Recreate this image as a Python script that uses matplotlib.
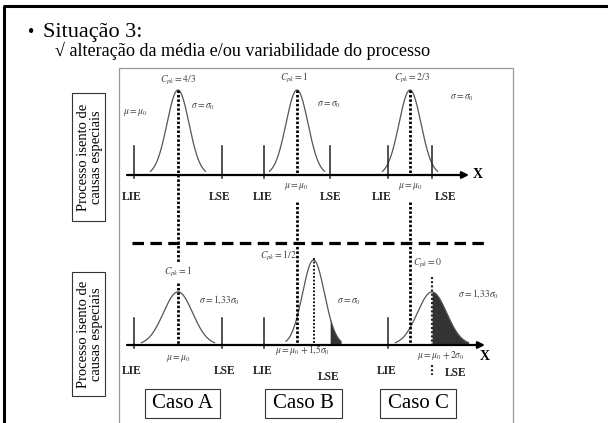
import numpy as np
import matplotlib
matplotlib.use("Agg")
import matplotlib.pyplot as plt
from matplotlib.patches import Rectangle

# ---------------- data ----------------
cases = ["Caso A", "Caso B", "Caso C"]
spec_half_width = [4, 3, 2]            # (LSE-LIE)/2 in units of sigma0
top_cpk = ["4/3", "1", "2/3"]
top_sigma = [1.0, 1.0, 1.0]            # sigma / sigma0
top_shift = [0.0, 0.0, 0.0]            # (mu - mu0) / sigma0
bot_cpk = ["1", "1/2", "0"]
bot_sigma = [1.33, 1.0, 1.33]
bot_shift = [0.0, 1.5, 2.0]
top_sigma_lbl = [r"$\sigma=\sigma_0$"] * 3
bot_sigma_lbl = [r"$\sigma=1{,}33\sigma_0$", r"$\sigma=\sigma_0$", r"$\sigma=1{,}33\sigma_0$"]
top_mu_lbl = [r"$\mu=\mu_0$"] * 3
bot_mu_lbl = [r"$\mu=\mu_0$", r"$\mu=\mu_0+1{,}5\sigma_0$", r"$\mu=\mu_0+2\sigma_0$"]
title = "Situação 3:"
subtitle = "√ alteração da média e/ou variabilidade do processo"
side_label = "Processo isento de\ncausas especiais"

# ---------------- layout (pixels) ----------------
W, H = 608, 423
CX = [178, 297, 410]
PX = 11.0
AXIS_Y = [175, 345]
Z = np.linspace(-2.5, 2.5, 300)

def peak_px(s):
    return 85.0 / s ** 1.65

plt.rcParams["mathtext.fontset"] = "stix"
fig = plt.figure(figsize=(W / 100, H / 100), dpi=100)
ax = fig.add_axes([0, 0, 1, 1])
ax.set_xlim(0, W)
ax.set_ylim(H, 0)
ax.axis("off")

serif = "Liberation Serif"
gcol = "#444444"

# outer slide border and inner gray box
ax.plot([3, W], [6, 6], color="black", lw=2.2, solid_capstyle="butt")
ax.plot([4, 4], [6, H], color="black", lw=2.2, solid_capstyle="butt")
ax.plot([119, 119, 513, 513], [H, 68, 68, H], color="#9a9a9a", lw=0.9)

# titles
ax.text(28, 37, "•", fontsize=13, family=serif, va="baseline")
ax.text(43, 37, title, fontsize=16, family=serif, va="baseline")
ax.text(55, 56, subtitle, fontsize=13.05, family=serif, va="baseline")

# side labels
for (y0, y1) in [(93, 221), (272, 396)]:
    ax.add_patch(Rectangle((72, y0), 33, y1 - y0, fill=False, ec="#333333", lw=0.8))
    ax.text(90, (y0 + y1) / 2, side_label, rotation=90, ha="center", va="center",
            fontsize=10.5, family=serif, linespacing=1.0)

# axes with arrows
ax.annotate("", xy=(469, AXIS_Y[0]), xytext=(127, AXIS_Y[0]),
            arrowprops=dict(arrowstyle="-|>", lw=1.6, color="black", mutation_scale=10, shrinkA=0, shrinkB=0))
ax.annotate("", xy=(485, AXIS_Y[1]), xytext=(127, AXIS_Y[1]),
            arrowprops=dict(arrowstyle="-|>", lw=1.6, color="black", mutation_scale=10, shrinkA=0, shrinkB=0))
ax.text(478, AXIS_Y[0], "X", fontsize=10, family=serif, weight="bold", ha="center", va="center")
ax.text(485, 356, "X", fontsize=10, family=serif, weight="bold", ha="center", va="center")

# dashed separator
ax.plot([132, 486], [243, 243], color="black", lw=2.3, dashes=(3.6, 2.0), dash_capstyle="butt")

thick_dot = dict(color="black", lw=2.0, dashes=(0.9, 0.7), dash_capstyle="butt")

# label positions (layout)
top_cpk_pos = [(178, 80), (294, 78), (412, 78)]
top_sig_pos = [(203, 107), (329, 105), (462, 98)]
top_mu_pos = [(135, 112), (296, 187), (410, 187)]
bot_cpk_pos = [(178, 272), (278, 256), (428, 263)]
bot_sig_pos = [(219, 300), (349, 302), (478, 293)]
bot_mu_pos = [(178, 358), (303, 350), (441, 356)]
top_lim_lbl = [((132, 197), (220, 197)), ((263, 197), (331, 197)), ((382, 197), (446, 197))]
bot_lim_lbl = [((132, 371), (225, 371)), ((263, 371), (329, 377)), ((387, 371), (456, 373))]
case_box_x = [(145, 220), (265, 342), (380, 456)]

def small(x, y, s):
    ax.text(x, y, s, fontsize=6.9, color=gcol, ha="center", va="center")

for i in range(3):
    cx = CX[i]
    lie = cx - spec_half_width[i] * PX
    lse = cx + spec_half_width[i] * PX
    # ---- top row
    ay = AXIS_Y[0]
    s, m = top_sigma[i], top_shift[i]
    xs = cx + (m + Z * s) * PX
    ys = ay - peak_px(s) * np.exp(-Z ** 2 / 2)
    ax.plot(xs, ys, color="#555555", lw=0.9)
    for lx in (lie, lse):
        ax.plot([lx, lx], [146, ay + 3], color="#222222", lw=1.1)
    small(*top_cpk_pos[i], r"$C_{pk}=%s$" % top_cpk[i])
    small(*top_sig_pos[i], top_sigma_lbl[i])
    small(*top_mu_pos[i], top_mu_lbl[i])
    for (lx, ly), t in zip(top_lim_lbl[i], ["LIE", "LSE"]):
        ax.text(lx, ly, t, fontsize=8.3, family=serif, weight="bold", ha="center", va="center", color="#222222")
    # ---- bottom row
    ay = AXIS_Y[1]
    s, m = bot_sigma[i], bot_shift[i]
    xs = cx + (m + Z * s) * PX
    ys = ay - peak_px(s) * np.exp(-Z ** 2 / 2)
    ax.plot(xs, ys, color="#555555", lw=0.9)
    mask = xs >= lse
    if mask.any():
        ax.fill_between(xs[mask], ys[mask], ay, color="#333333", lw=0)
    ax.plot([lie, lie], [318, ay + 3], color="#222222", lw=1.1)
    if i == 0:
        ax.plot([lse, lse], [318, ay + 3], color="#222222", lw=1.1)
    small(*bot_cpk_pos[i], r"$C_{pk}=%s$" % bot_cpk[i])
    small(*bot_sig_pos[i], bot_sigma_lbl[i])
    small(*bot_mu_pos[i], bot_mu_lbl[i])
    for (lx, ly), t in zip(bot_lim_lbl[i], ["LIE", "LSE"]):
        ax.text(lx, ly, t, fontsize=8.3, family=serif, weight="bold", ha="center", va="center", color="#222222")
    # case box
    x0, x1 = case_box_x[i]
    ax.add_patch(Rectangle((x0, 389), x1 - x0, 29, fill=False, ec="#333333", lw=0.8))
    ax.text((x0 + x1) / 2, 404, cases[i], fontsize=15, family=serif, ha="center", va="center")

# dotted mean lines
top_peak = AXIS_Y[0] - peak_px(1.0)
ax.plot([CX[0], CX[0]], [top_peak, 263], **thick_dot)
ax.plot([CX[0], CX[0]], [283, AXIS_Y[1]], **thick_dot)
for i in (1, 2):
    ax.plot([CX[i], CX[i]], [top_peak, AXIS_Y[0]], **thick_dot)
    ax.plot([CX[i], CX[i]], [202, AXIS_Y[1]], **thick_dot)
mb = CX[1] + bot_shift[1] * PX
ax.plot([mb, mb], [AXIS_Y[1] - peak_px(bot_sigma[1]) - 2, AXIS_Y[1]], color="black", lw=1.3, dashes=(1, 1))
mc = CX[2] + bot_shift[2] * PX
ax.plot([mc, mc], [277, AXIS_Y[1]], color="#222222", lw=1.5, dashes=(1, 1))
ax.plot([mc, mc], [365, 375], color="#222222", lw=1.5, dashes=(1, 1))

fig.savefig("out.png", dpi=100)
